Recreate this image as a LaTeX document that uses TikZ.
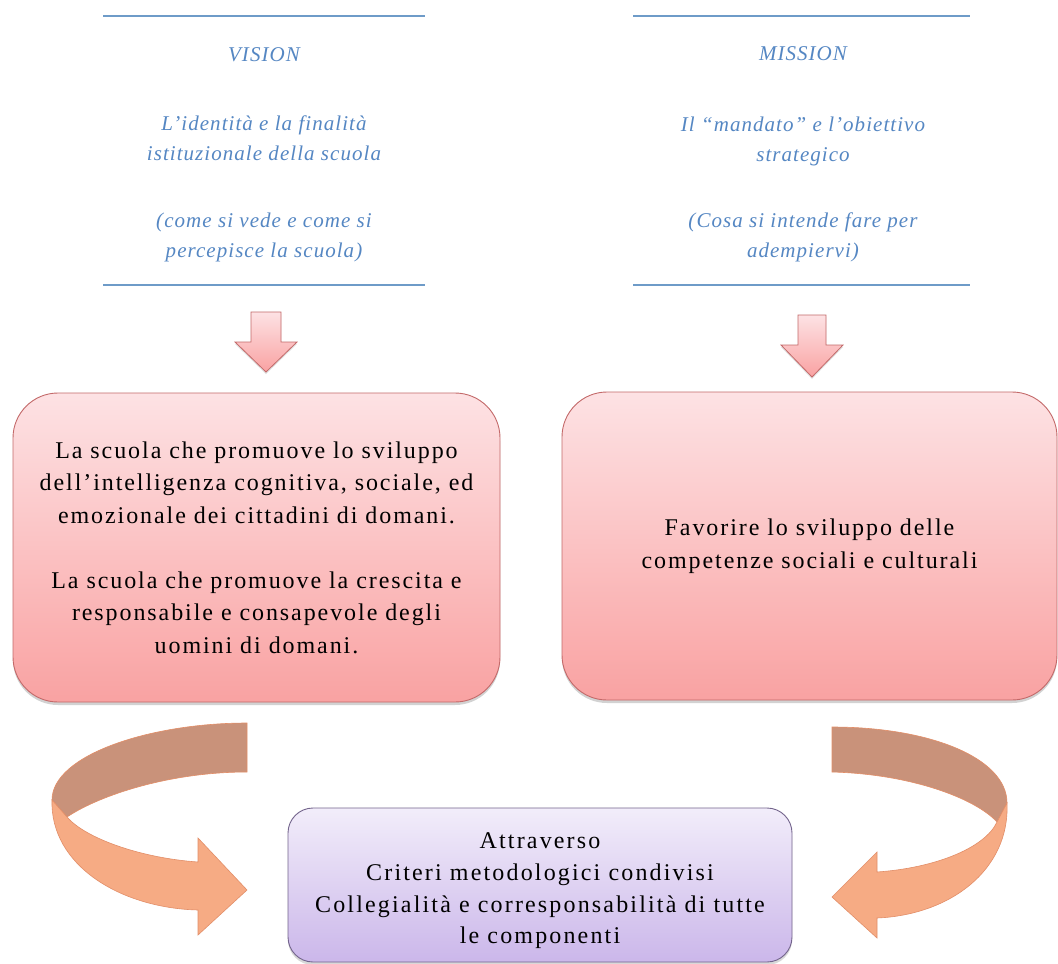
\documentclass[tikz,border=0pt]{standalone}
\usepackage{fontspec}
\setmainfont{Liberation Serif}
\newfontfamily\boxfont[LetterSpace=8]{Liberation Serif}
\newfontfamily\bottomfont[LetterSpace=9]{Liberation Serif}
\newfontfamily\bluefont[LetterSpace=5]{Liberation Serif}
\usetikzlibrary{shadows}
\definecolor{blueline}{RGB}{110,155,200}
\definecolor{bluetext}{RGB}{85,135,195}
\definecolor{pinktop}{RGB}{253,226,228}
\definecolor{pinkbot}{RGB}{249,162,162}
\definecolor{pinkedge}{RGB}{195,105,105}
\definecolor{purptop}{RGB}{242,237,250}
\definecolor{purpbot}{RGB}{203,183,234}
\definecolor{purpedge}{RGB}{115,100,140}
\definecolor{cdark}{RGB}{201,146,122}
\definecolor{clight}{RGB}{246,171,132}
\definecolor{cedge}{RGB}{226,142,104}
\tikzset{
  bluetxt/.style={text=bluetext, align=center, font={\fontsize{21pt}{30pt}\selectfont\bluefont\itshape}},
  rule/.style={draw=blueline, line width=1.4pt},
  pinkbox/.style={draw=pinkedge, line width=0.9pt, rounded corners=45pt, top color=pinktop, bottom color=pinkbot,
     drop shadow={shadow xshift=0pt, shadow yshift=-3pt, opacity=0.35},
     align=center, font={\fontsize{24pt}{32.5pt}\selectfont\boxfont}},
  purplebox/.style={draw=purpedge, line width=0.9pt, rounded corners=25pt, top color=purptop, bottom color=purpbot,
     drop shadow={shadow xshift=0pt, shadow yshift=-3pt, opacity=0.3}},
  boxtext/.style={align=center, font={\fontsize{24pt}{31.7pt}\selectfont\bottomfont}},
  downarrow/.style={draw=pinkedge, line width=0.8pt, top color=pinktop, bottom color=pinkbot,
     drop shadow={shadow xshift=0pt, shadow yshift=-2pt, opacity=0.25}},
  curvedark/.style={fill=cdark, draw=cedge, line width=0.6pt},
  curvelight/.style={fill=clight, draw=cedge, line width=0.6pt}
}
\begin{document}
\begin{tikzpicture}[x=1pt,y=-1pt]
\useasboundingbox (0,0) rectangle (1058,964);
\fill[white] (0,0) rectangle (1058,964);

% VISION column
\draw[rule] (103,16) -- (425,16);
\draw[rule] (103,285) -- (425,285);
\node[bluetxt] (vtitle) at (264,55) {VISION};
\node[bluetxt] (vdesc) at (264,138) {L’identità e la finalità\\istituzionale della scuola};
\node[bluetxt] (vnote) at (264,237) {(come si vede e come si\\percepisce la scuola)};

% MISSION column
\draw[rule] (633,16) -- (970,16);
\draw[rule] (633,285) -- (970,285);
\node[bluetxt] (mtitle) at (803,54) {MISSION};
\node[bluetxt] (mdesc) at (803,141) {Il “mandato” e l’obiettivo\\strategico};
\node[bluetxt] (mnote) at (803,237) {(Cosa si intende fare per\\adempiervi)};

% down arrows
\path[downarrow] (251,312) -- (281,312) -- (281,342) -- (297,342) -- (266,372) -- (235,342) -- (251,342) -- cycle;
\path[downarrow] (798,315) -- (826,315) -- (826,345) -- (843,345) -- (812,377) -- (781,345) -- (798,345) -- cycle;

% pink boxes
\node[pinkbox, minimum width=487pt, minimum height=309pt] (vbox) at (256.5,547.5)
  {La scuola che promuove lo sviluppo\\dell’intelligenza cognitiva, sociale, ed\\emozionale dei cittadini di domani.\\[32.5pt]La scuola che promuove la crescita e\\responsabile e consapevole degli\\uomini di domani.};
\node[pinkbox, minimum width=495pt, minimum height=308pt] (mbox) at (809.5,546)
  {Favorire lo sviluppo delle\\competenze sociali e culturali};

% bottom box
\node[purplebox, minimum width=504pt, minimum height=154pt] (bbox) at (540,885) {};
\node[boxtext] (btext) at (540,891)
  {Attraverso\\Criteri metodologici condivisi\\Collegialità e corresponsabilità di tutte\\le componenti};

% left curved arrow
\path[curvedark] (247,723) .. controls (150,723) and (52,755) .. (52,800) -- (67,817)
   .. controls (100,795) and (170,772) .. (247,772) -- cycle;
\path[curvelight] (52,800) .. controls (50,865) and (120,908) .. (198,910) -- (198,935) -- (247,890)
   -- (198,838) -- (198,862) .. controls (140,858) and (85,838) .. (67,817) -- cycle;

% right curved arrow
\path[curvedark] (832,727) .. controls (930,727) and (1007,758) .. (1007,803) -- (997,822)
   .. controls (975,798) and (910,774) .. (832,772) -- cycle;
\path[curvelight] (1007,803) .. controls (1010,870) and (950,915) .. (877,918) -- (877,938) -- (832,897)
   -- (877,852) -- (877,872) .. controls (935,868) and (985,848) .. (997,822) -- cycle;
\end{tikzpicture}
\end{document}
